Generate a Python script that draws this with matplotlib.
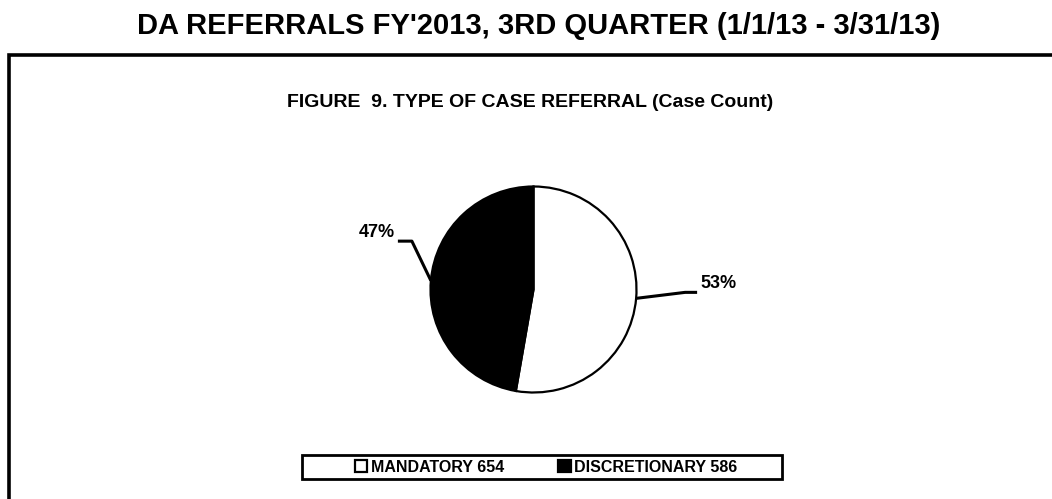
import numpy as np
import matplotlib.pyplot as plt
from matplotlib.patches import Rectangle

# datos del grafico
categorias = ["MANDATORY", "DISCRETIONARY"]
casos = [654, 586]
colores = ["white", "black"]

titulo = "DA REFERRALS FY'2013, 3RD QUARTER (1/1/13 - 3/31/13)"
subtitulo = "FIGURE  9. TYPE OF CASE REFERRAL (Case Count)"

plt.rcParams['font.family'] = ['Liberation Sans Narrow', 'Liberation Sans', 'DejaVu Sans']
plt.rcParams['font.weight'] = 'bold'

W, H = 1052, 499
fig = plt.figure(figsize=(W / 100, H / 100), dpi=100)
ax = fig.add_axes([0, 0, 1, 1])

# pastel
cx, cy, r = 533.5, H - 289.5, 103
wedges, _ = ax.pie(casos, colors=colores, startangle=90, counterclock=False,
                   center=(cx, cy), radius=r,
                   wedgeprops=dict(edgecolor='black', linewidth=1.6))
ax.set_xlim(0, W)
ax.set_ylim(0, H)
ax.set_aspect('equal')
ax.axis('off')

# marco exterior
marco = Rectangle((9, -20), W + 40, H - 54.5 + 20, fill=False,
                  edgecolor='black', linewidth=2.6, clip_on=False)
ax.add_patch(marco)

# titulos
ax.text(538.5, H - 34, titulo, ha='center', va='baseline',
        fontsize=21, fontweight='bold')
ax.text(530, H - 107, subtitulo, ha='center', va='baseline',
        fontsize=14, fontweight='bold')

total = sum(casos)
# desplazamientos de las lineas guia (codo, extremo, texto)
guias = [((49, 6), 12, 'left'), ((-19, 39.5), -14, 'right')]
for w, v, (codo, largo, alin) in zip(wedges, casos, guias):
    ang = np.deg2rad((w.theta1 + w.theta2) / 2)
    x0, y0 = cx + r * np.cos(ang), cy + r * np.sin(ang)
    x1, y1 = x0 + codo[0], y0 + codo[1]
    x2 = x1 + largo
    ax.plot([x0, x1, x2], [y0, y1, y1], color='black', linewidth=2.2,
            solid_capstyle='butt')
    dx = 3 if alin == 'left' else -3
    ax.text(x2 + dx, y1 + 8.5, f"{round(v / total * 100)}%", ha=alin,
            va='center', fontsize=13, fontweight='bold')

# leyenda
caja = Rectangle((302, H - 479), 480, 24, fill=False, edgecolor='black',
                 linewidth=2.0)
ax.add_patch(caja)
etiquetas = [f"{c} {v}" for c, v in zip(categorias, casos)]
ax.legend(wedges, etiquetas, loc='center', ncol=2, frameon=False,
          bbox_to_anchor=(546 / W, (H - 467) / H), bbox_transform=fig.transFigure,
          handlelength=0.8, handleheight=0.8, handletextpad=0.2,
          columnspacing=3.4, prop={'size': 11.5, 'weight': 'bold'})

fig.savefig("out.png", dpi=100)
